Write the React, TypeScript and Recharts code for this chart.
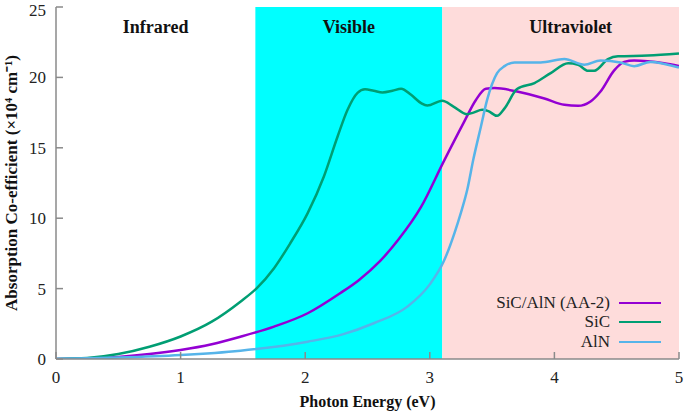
import { LineChart, Line, XAxis, YAxis, ReferenceArea, Legend } from "recharts";

// photon energy (eV) and absorption (x10^4 cm^-1)
const sicX = [0, 0.25, 0.5, 0.75, 1.0, 1.25, 1.48, 1.61, 1.75, 1.88, 2.02, 2.15, 2.26, 2.34, 2.42, 2.48, 2.55, 2.62, 2.7, 2.77, 2.85, 2.93, 2.98, 3.1, 3.19, 3.3, 3.35, 3.42, 3.47, 3.54, 3.6, 3.7, 3.84, 3.97, 4.11, 4.19, 4.27, 4.32, 4.43, 4.51, 4.75, 5.0];
const sicY = [0, 0.07, 0.35, 0.87, 1.6, 2.65, 4.07, 5.02, 6.45, 8.22, 10.36, 12.96, 15.8, 17.7, 18.9, 19.15, 19.05, 18.93, 19.05, 19.2, 18.76, 18.17, 18.0, 18.34, 17.93, 17.39, 17.5, 17.7, 17.6, 17.27, 17.8, 19.17, 19.6, 20.3, 21.0, 20.9, 20.47, 20.47, 21.3, 21.5, 21.55, 21.7];

const hetX = [0, 0.25, 0.5, 0.75, 1.0, 1.25, 1.48, 1.75, 2.02, 2.28, 2.43, 2.6, 2.75, 2.93, 3.11, 3.27, 3.37, 3.45, 3.52, 3.7, 3.92, 4.08, 4.19, 4.29, 4.37, 4.48, 4.56, 4.64, 4.88, 5.0];
const hetY = [0, 0.03, 0.15, 0.35, 0.64, 1.05, 1.58, 2.3, 3.25, 4.67, 5.6, 6.95, 8.5, 10.8, 14.0, 16.75, 18.4, 19.2, 19.24, 19.0, 18.5, 18.05, 17.98, 18.29, 19.0, 20.5, 21.1, 21.2, 21.0, 20.8];

const alnX = [0, 0.5, 1.0, 1.48, 2.02, 2.3, 2.55, 2.82, 3.0, 3.11, 3.2, 3.25, 3.3, 3.35, 3.41, 3.46, 3.54, 3.6, 3.68, 3.89, 4.08, 4.24, 4.37, 4.53, 4.64, 4.77, 5.0];
const alnY = [0, 0.1, 0.28, 0.59, 1.23, 1.75, 2.54, 3.72, 5.3, 6.9, 9.0, 10.4, 12.0, 14.2, 16.5, 18.4, 20.3, 20.8, 21.06, 21.06, 21.3, 20.9, 21.2, 21.06, 20.8, 21.1, 20.7];

const seriesNames = ["SiC/AlN (AA-2)", "SiC", "AlN"];

const xTicks = [0, 1, 2, 3, 4, 5];
const yTicks = [0, 5, 10, 15, 20, 25];

const infraredRange = [0, 1.6];
const visibleRange = [1.6, 3.1];
const uvRange = [3.1, 5];

const toPoints = (xs: number[], ys: number[]) => xs.map((x, i) => ({ x, y: ys[i] }));
const hetData = toPoints(hetX, hetY);
const sicData = toPoints(sicX, sicY);
const alnData = toPoints(alnX, alnY);

const serif = "Liberation Serif";
const axisGray = "#8a8a8a";
const tickFont = { fontFamily: serif, fontSize: 17, fill: "#222" };
const bandLabel = { fontFamily: serif, fontSize: 18, fontWeight: 700, fill: "#111" };

function LegendBox({ payload }: any) {
  const items = [...(payload || [])].sort(
    (a: any, b: any) => seriesNames.indexOf(a.value) - seriesNames.indexOf(b.value)
  );
  return (
    <div style={{ fontFamily: serif, fontSize: 17, color: "#222" }}>
      {items.map((p: any) => (
        <div
          key={p.value}
          style={{ display: "flex", alignItems: "center", justifyContent: "flex-end", height: 19.5 }}
        >
          <span>{p.value}</span>
          <span style={{ display: "inline-block", width: 42, borderTop: `2.5px solid ${p.color}`, marginLeft: 9 }} />
        </div>
      ))}
    </div>
  );
}

export default function App() {
  return (
    <div style={{ position: "absolute", left: 0, top: 0, background: "#fff" }}>
      <LineChart width={685} height={413} margin={{ top: 7, right: 6, left: 0, bottom: 0 }}>
        <ReferenceArea
          x1={infraredRange[0]}
          x2={infraredRange[1]}
          fill="none"
          stroke="none"
          label={{ value: "Infrared", position: "insideTop", offset: 13, ...bandLabel }}
        />
        <ReferenceArea
          x1={visibleRange[0]}
          x2={visibleRange[1]}
          fill="#00FFFF"
          fillOpacity={1}
          stroke="none"
          label={{ value: "Visible", position: "insideTop", offset: 13, ...bandLabel }}
        />
        <ReferenceArea
          x1={uvRange[0]}
          x2={uvRange[1]}
          fill="#FEDCDB"
          fillOpacity={1}
          stroke="none"
          label={{ value: "Ultraviolet", position: "insideTop", offset: 13, dx: 10, ...bandLabel }}
        />
        <XAxis
          type="number"
          dataKey="x"
          domain={[0, 5]}
          ticks={xTicks}
          allowDataOverflow
          height={54}
          tickSize={-7}
          tickMargin={19}
          tick={tickFont}
          stroke={axisGray}
          strokeWidth={1.5}
          label={{
            value: "Photon Energy (eV)",
            position: "insideBottom",
            offset: 6,
            fontFamily: serif,
            fontSize: 16,
            fontWeight: 700,
            fill: "#111",
          }}
        />
        <XAxis
          xAxisId="top"
          orientation="top"
          type="number"
          dataKey="x"
          domain={[0, 5]}
          ticks={xTicks}
          height={0}
          tickSize={-7}
          tick={false}
          stroke={axisGray}
          strokeWidth={1.5}
        />
        <YAxis
          type="number"
          domain={[0, 25]}
          ticks={yTicks}
          allowDataOverflow
          width={56}
          tickSize={-7}
          tickMargin={17}
          tick={tickFont}
          stroke={axisGray}
          strokeWidth={1.5}
          label={{
            value: "Absorption Co-efficient (×10⁴ cm⁻¹)",
            angle: -90,
            position: "center",
            dx: -17,
            fontFamily: serif,
            fontSize: 17,
            fontWeight: 700,
            fill: "#111",
          }}
        />
        <YAxis
          yAxisId="right"
          orientation="right"
          type="number"
          domain={[0, 25]}
          ticks={yTicks}
          width={0}
          tickSize={-7}
          tick={false}
          stroke={axisGray}
          strokeWidth={1.5}
        />
        <Line
          data={hetData}
          dataKey="y"
          name={seriesNames[0]}
          type="monotone"
          stroke="#9400D3"
          strokeWidth={2.5}
          dot={false}
          isAnimationActive={false}
        />
        <Line
          data={sicData}
          dataKey="y"
          name={seriesNames[1]}
          type="monotone"
          stroke="#009E73"
          strokeWidth={2.5}
          dot={false}
          isAnimationActive={false}
        />
        <Line
          data={alnData}
          dataKey="y"
          name={seriesNames[2]}
          type="monotone"
          stroke="#56B4E9"
          strokeWidth={2.5}
          dot={false}
          isAnimationActive={false}
        />
        <Legend
          layout="vertical"
          align="center"
          verticalAlign="middle"
          content={<LegendBox />}
          wrapperStyle={{ right: 24, top: 293, width: 250 }}
        />
      </LineChart>
    </div>
  );
}
